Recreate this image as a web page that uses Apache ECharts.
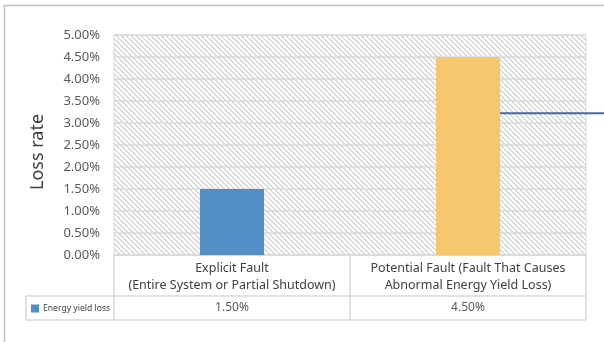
<!DOCTYPE html>
<html>
<head>
<meta charset="utf-8">
<script src="https://cdn.jsdelivr.net/npm/echarts@6/dist/echarts.min.js"></script>
<style>
  html, body { margin: 0; padding: 0; background: #fff; overflow: hidden; }
  #main { width: 604px; height: 342px; }
</style>
</head>
<body>
<div id="main"></div>
<script>
// chart data
var categories = [
  'Explicit Fault\n(Entire System or Partial Shutdown)',
  'Potential Fault (Fault That Causes\nAbnormal Energy Yield Loss)'
];
var seriesName = 'Energy yield loss';
var lossValues = [0.015, 0.045];
var barColors = ['#538ec6', '#f5c86e'];
var calloutValue = 0.0322;   // level of the callout line leaving the second bar

function pct(v) {
  return (v * 100).toFixed(2) + '%';
}

// light diagonal hatch for the plot area
function hatch() {
  var n = 5;
  var c = document.createElement('canvas');
  c.width = n; c.height = n;
  var ctx = c.getContext('2d');
  var img = ctx.createImageData(n, n);
  for (var y = 0; y < n; y++) {
    for (var x = 0; x < n; x++) {
      var on = ((x - y + n * 2) % n) < 2;
      var v = on ? 216 : 255;
      var i = (y * n + x) * 4;
      img.data[i] = v; img.data[i + 1] = v; img.data[i + 2] = v; img.data[i + 3] = 255;
    }
  }
  ctx.putImageData(img, 0, 0);
  return { image: c, repeat: 'repeat' };
}

var chart = echarts.init(document.getElementById('main'));
var font = '"Noto Sans", sans-serif';
var lineGray = '#d9d9d9';

var option = {
  animation: false,
  textStyle: { fontFamily: font },
  grid: {
    left: 114, right: 18, top: 35, bottom: 87,
    show: true,
    backgroundColor: hatch(),
    borderColor: lineGray,
    borderWidth: 1
  },
  legend: {
    data: [seriesName],
    left: 31, top: 304,
    padding: 0,
    icon: 'rect',
    itemWidth: 8, itemHeight: 8, itemGap: 4,
    textStyle: { fontSize: 8.6, color: '#404040', fontFamily: font, padding: [0, 0, 0, -1] }
  },
  xAxis: [{
    type: 'category',
    data: categories,
    axisLine: { lineStyle: { color: lineGray, width: 1.5 } },
    axisTick: { show: true, length: 65, lineStyle: { color: lineGray, width: 1.5 } },
    axisLabel: { interval: 0, color: '#404040', fontSize: 12.5, lineHeight: 17, margin: 5 }
  }, {
    type: 'category',
    data: lossValues.map(pct),
    position: 'bottom',
    offset: 41,
    axisLine: { show: false },
    axisTick: { show: false },
    axisLabel: { interval: 0, color: '#595959', fontSize: 12, margin: 6 }
  }],
  yAxis: {
    type: 'value',
    min: 0, max: 0.05, interval: 0.005,
    name: 'Loss rate',
    nameLocation: 'middle',
    nameRotate: 90,
    nameGap: 67,
    nameTextStyle: { fontSize: 18, color: '#404040', fontFamily: font, padding: [0, 14, 0, 0] },
    axisLine: { show: false },
    axisTick: { show: false },
    axisLabel: { color: '#595959', fontSize: 13, margin: 14, formatter: pct },
    splitLine: { lineStyle: { color: lineGray, width: 1.5 } }
  },
  series: [{
    name: seriesName,
    type: 'bar',
    barWidth: 64,
    data: lossValues.map(function (v, i) {
      return { value: v, itemStyle: { color: barColors[i] } };
    }),
    itemStyle: { color: barColors[0] }
  }]
};
chart.setOption(option);

// table rules below the plot, outer chart frame and the callout line
var x0 = chart.convertToPixel({ xAxisIndex: 0 }, 0);
var x1 = chart.convertToPixel({ xAxisIndex: 0 }, 1);
var half = (x1 - x0) / 2;
var rightEdge = x1 + half;
var rowTop = chart.convertToPixel({ yAxisIndex: 0 }, 0) + 41;
var rowBottom = rowTop + 24;
var calloutY = chart.convertToPixel({ yAxisIndex: 0 }, calloutValue);

chart.setOption({
  graphic: [
    { type: 'line', shape: { x1: 4.5, y1: 5, x2: 4.5, y2: 342 },
      style: { stroke: '#bfbfbf', lineWidth: 1.5 }, silent: true },
    { type: 'line', shape: { x1: 4, y1: 5.5, x2: 604, y2: 5.5 },
      style: { stroke: '#bfbfbf', lineWidth: 1.5 }, silent: true },
    { type: 'line', shape: { x1: 26, y1: rowTop, x2: rightEdge, y2: rowTop },
      style: { stroke: lineGray, lineWidth: 1.5 } },
    { type: 'line', shape: { x1: 26, y1: rowBottom, x2: rightEdge, y2: rowBottom },
      style: { stroke: lineGray, lineWidth: 1.5 } },
    { type: 'line', shape: { x1: 26, y1: rowTop, x2: 26, y2: rowBottom },
      style: { stroke: lineGray, lineWidth: 1.5 } },
    { type: 'line', shape: { x1: x1 + 32, y1: calloutY, x2: 604, y2: calloutY },
      style: { stroke: '#47689a', lineWidth: 2 } }
  ]
});
</script>
</body>
</html>
